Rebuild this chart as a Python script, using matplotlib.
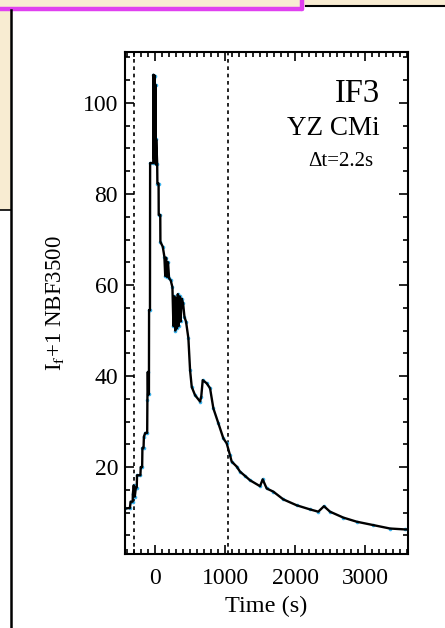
import matplotlib
matplotlib.use("Agg")
import matplotlib.pyplot as plt
from matplotlib.patches import Rectangle
from matplotlib.ticker import MultipleLocator

# ── DATA ──────────────────────────────────────────────────────────────────────
time_s = [-430, -360, -350, -320, -318, -305, -290, -275, -262, -258, -210,
          -205, -185, -181, -165, -160, -140, -113, -110, -104, -98, -88, -86,
          -73, -71, -26, -24, -19, -14, -9, -4, 1, 6, 11, 16, 30, 33, 50, 52,
          74, 76, 110, 133, 145, 157, 170, 185, 200, 224, 248, 262, 275, 288,
          300, 312, 325, 338, 350, 365, 380, 400, 420, 443, 476, 500, 524,
          571, 643, 660, 681, 738, 786, 833, 905, 976, 1024, 1071, 1095, 1167,
          1214, 1290, 1357, 1500, 1538, 1595, 1690, 1833, 2024, 2214, 2333,
          2414, 2500, 2690, 2881, 3119, 3357, 3571, 3620]
flux = [10.9, 11.0, 12.4, 12.4, 14.0, 16.0, 13.5, 15.5, 15.5, 18.2, 18.2,
        20.0, 20.0, 24.2, 24.2, 26.7, 27.5, 27.5, 34.7, 40.9, 36.0, 36.0,
        54.5, 54.5, 86.8, 86.8, 106.2, 88.0, 105.5, 87.5, 106.0, 89.0, 104.0,
        86.5, 92.0, 86.7, 82.3, 82.3, 75.4, 75.4, 69.5, 68.4, 66.2, 62.0,
        66.0, 61.8, 65.0, 61.5, 61.0, 59.5, 51.0, 57.5, 50.0, 57.0, 50.5,
        58.0, 51.0, 57.5, 52.0, 57.0, 56.0, 53.0, 51.9, 48.3, 41.3, 37.6,
        35.8, 34.4, 35.5, 39.1, 38.4, 37.3, 32.9, 29.6, 26.3, 25.2, 22.6,
        21.2, 20.1, 19.0, 18.0, 17.1, 15.8, 17.3, 15.3, 14.6, 12.9, 11.6,
        10.7, 10.2, 11.4, 10.2, 8.9, 8.0, 7.25, 6.5, 6.3, 6.3]

vlines_s = [-300, 1040]
xticks = [0, 1000, 2000, 3000]
yticks = [20, 40, 60, 80, 100]

plt.rcParams.update({
    "font.family": ["Liberation Serif", "DejaVu Serif"],
    "mathtext.fontset": "stix",
    "font.size": 17,
})

W, H = 445, 628
fig = plt.figure(figsize=(W / 100, H / 100), dpi=100, facecolor="white")

# ── slide decorations behind the plot ────────────────────────────────────────
bg = fig.add_axes([0, 0, 1, 1], zorder=0)
bg.set_xlim(0, W); bg.set_ylim(H, 0); bg.axis("off")
beige = "#f8ecd2"
bg.add_patch(Rectangle((0, 0), W, 7, color=beige, lw=0))
bg.add_patch(Rectangle((0, 0), 11, 210, color=beige, lw=0))
bg.plot([0, 302], [8.5, 8.5], color="#e040f0", lw=3.2, solid_capstyle="round")
bg.plot([302, 302], [0, 8.5], color="#e040f0", lw=3.2, solid_capstyle="round")
bg.plot([306, W], [6, 6], color="black", lw=1.5)
bg.plot([11, 11], [10, H], color="black", lw=1.8)
bg.plot([0, 11], [210, 210], color="black", lw=1.2)

# ── light curve panel ────────────────────────────────────────────────────────
ax = fig.add_axes([125 / W, 1 - 554 / H, (408 - 125) / W, (554 - 52) / H], zorder=1)
ax.set_facecolor("white")
ax.plot(time_s, flux, ls="none", marker="o", ms=2.6, mec="none",
        color="#3cb4ee", zorder=2)
ax.plot(time_s, flux, color="black", lw=1.7, zorder=3)
for v in vlines_s:
    ax.axvline(v, color="black", lw=1.2, ls=(0, (2.2, 2.2)), zorder=1)

ax.set_xlim(-430, 3615)
ax.set_ylim(0.9, 111.2)
ax.set_xticks(xticks)
ax.set_yticks(yticks)
ax.xaxis.set_minor_locator(MultipleLocator(100))
ax.yaxis.set_minor_locator(MultipleLocator(5))
ax.tick_params(which="both", direction="in", top=True, right=True, width=1.2)
ax.tick_params(which="major", length=6.5)
ax.tick_params(which="minor", length=3.5)
ax.tick_params(axis="x", which="major", pad=10, labelsize=17)
ax.tick_params(axis="y", which="major", pad=5, labelsize=17)
for s in ax.spines.values():
    s.set_linewidth(1.5)

ax.set_xlabel("Time (s)", fontsize=17.5, labelpad=5)
ax.set_ylabel(r"I$_\mathrm{f}$+1 NBF3500", fontsize=16.5, labelpad=12)

ax.text(0.90, 0.90, "IF3", transform=ax.transAxes, ha="right", va="baseline", fontsize=23.5)
ax.text(0.90, 0.835, "YZ CMi", transform=ax.transAxes, ha="right", va="baseline", fontsize=19.5)
ax.text(0.876, 0.773, "\u0394t=2.2s", transform=ax.transAxes, ha="right", va="baseline", fontsize=15)

fig.savefig("out.png", dpi=100, facecolor="white")
